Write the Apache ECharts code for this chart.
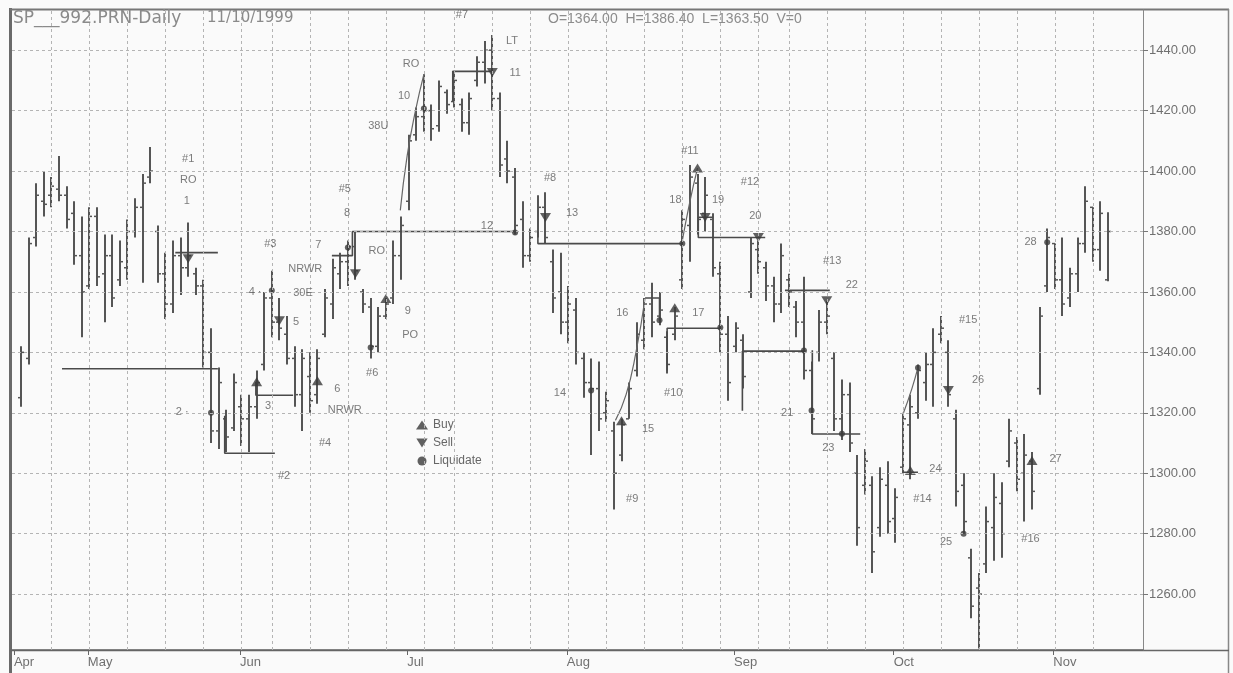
<!DOCTYPE html>
<html><head><meta charset="utf-8">
<script src="https://cdn.jsdelivr.net/npm/echarts@6/dist/echarts.min.js"></script>
<style>html,body{margin:0;padding:0;background:#fafafa}#c{width:1233px;height:673px}</style>
</head><body><div id="c"></div>
<script>
// ---------- data ----------
const startDate = '1999-04-20', endDate = '1999-11-10';
const holidays = ['1999-05-31', '1999-07-05', '1999-09-06'];
const monthNames = ['Apr','May','Jun','Jul','Aug','Sep','Oct','Nov'];
const yTicks = [1260,1280,1300,1320,1340,1360,1380,1400,1420,1440];

const opens = [1325,1338,1378,1390,1392,1394,1392,1386,1372,1362, 1385,1366,1372,1364,1368,1380,1388,1398,1380,1366,
 1356,1372,1368,1366,1362,1340,1314,1318,1315,1322, 1318,1322,1336,1358,1350,1346,1338,1326,1332,1326,
 1346,1356,1366,1370,1375,1360,1355,1342,1352,1358, 1372,1390,1412,1418,1420,1415,1426,1423,1422,1416,
 1430,1436,1440,1424,1404,1398,1384,1372,1380,1388, 1370,1360,1350,1354,1338,1330,1328,1320,1314,1306,
 1318,1334,1344,1356,1352,1345,1346,1364,1382,1396, 1386,1384,1366,1346,1342,1344,1360,1374,1368,1362,
 1356,1364,1355,1350,1334,1340,1350,1338,1318,1326, 1300,1296,1296,1282,1296,1285,1302,1316,1320,1330,
 1336,1346,1340,1318,1296,1272,1262,1270,1282,1290, 1304,1310,1300,1304,1328,1362,1376,1364,1358,1366,
 1376,1388,1374,1364];
const highs = [1342,1378,1396,1400,1398,1405,1395,1390,1385,1388, 1388,1379,1379,1377,1384,1391,1399,1408,1382,1373,
 1377,1378,1383,1368,1364,1348,1335,1321,1333,1326, 1326,1334,1360,1367,1358,1352,1342,1341,1340,1341,
 1361,1371,1373,1377,1380,1361,1358,1355,1358,1377, 1385,1412,1421,1432,1422,1430,1427,1433,1424,1426,
 1438,1443,1445,1426,1410,1401,1390,1381,1392,1393, 1374,1373,1362,1358,1340,1338,1337,1327,1317,1318,
 1330,1350,1358,1363,1360,1347,1355,1387,1402,1399, 1398,1386,1370,1352,1350,1346,1378,1377,1370,1365,
 1376,1366,1357,1365,1337,1354,1357,1340,1331,1330, 1306,1308,1299,1302,1304,1295,1320,1326,1336,1340,
 1348,1352,1344,1321,1300,1275,1267,1289,1300,1297, 1318,1312,1313,1307,1355,1381,1376,1378,1368,1378,
 1395,1388,1390,1386.4];
const lows = [1322,1336,1375,1385,1388,1390,1381,1369,1345,1361, 1362,1350,1355,1362,1364,1378,1363,1396,1363,1351,
 1353,1359,1365,1359,1335,1310,1308,1307,1314,1309, 1307,1318,1334,1345,1344,1336,1322,1314,1320,1323,
 1345,1351,1361,1362,1364,1353,1338,1340,1351,1356, 1364,1387,1410,1413,1410,1413,1419,1421,1413,1412,
 1428,1429,1420,1398,1396,1379,1368,1370,1378,1376, 1353,1346,1343,1336,1325,1306,1314,1317,1288,1304,
 1318,1332,1341,1345,1349,1333,1344,1361,1370,1379, 1380,1365,1340,1324,1340,1328,1358,1366,1357,1350,
 1353,1355,1345,1331,1313,1337,1346,1314,1311,1307, 1276,1293,1267,1279,1280,1277,1300,1298,1318,1324,
 1322,1343,1322,1289,1280,1252,1242,1267,1271,1272, 1302,1294,1284,1288,1326,1360,1361,1352,1355,1360,
 1373,1370,1367,1363.5];
const closes = [1340,1376,1392,1389,1395,1392,1384,1372,1360,1385, 1365,1372,1358,1370,1380,1388,1396,1400,1366,1356,
 1372,1368,1372,1362,1340,1314,1330,1312,1330,1318, 1322,1330,1358,1350,1348,1338,1326,1338,1324,1338,
 1358,1368,1370,1375,1367,1356,1342,1352,1356,1372, 1382,1410,1418,1420,1414,1428,1422,1430,1416,1424,
 1436,1440,1424,1402,1400,1382,1372,1378,1388,1378, 1358,1350,1356,1340,1330,1328,1318,1324,1300,1316,
 1328,1346,1356,1350,1354,1336,1352,1384,1398,1384, 1392,1368,1346,1330,1348,1332,1376,1370,1362,1356,
 1372,1360,1350,1334,1318,1350,1352,1318,1326,1310, 1282,1304,1274,1298,1284,1292,1318,1322,1334,1336,
 1340,1348,1326,1294,1284,1256,1260,1284,1292,1280, 1314,1298,1306,1294,1352,1378,1364,1356,1366,1376,
 1390,1374,1386,1380];

// signals: [tradingDayIndex, price]
const buys = [[31,1330.3],[39,1330.6],[48,1357.8],[79,1317.4],[86,1354.8],[89,1401],[117,1300.9],[133,1304.2]];
const sells = [[22,1371],[34,1350.5],[44,1366],[62,1432.6],[69,1384.6],[90,1384.6],[97,1378],[106,1357.1],[122,1327.4]];
const liquidates = [[25,1320],[33,1360.5],[43,1374.7],[46,1341.6],[53,1420.7],[65,1379.7],[75,1327.4],[84,1350.6],
 [87,1376],[92,1348.2],[103,1340.6],[104,1320.8],[108,1313.1],[118,1334.9],[124,1280],[135,1376.4]];

// annotation texts: [text, tradingDayIndex, price]
const notes = [['#1',22,1404],['RO',22,1397],['1',21.8,1390],['2 ·',21.2,1320.4],['#2',34.6,1299],['#3',32.8,1376],
 ['3',32.5,1322.4],['4 ·',30.8,1360],['5',36.2,1350],['NRWR',37.4,1367.7],['30E',37.1,1359.8],['7',39.1,1375.4],
 ['#5',42.6,1394.2],['8',42.9,1386],['RO',46.8,1373.7],['9',50.9,1353.8],['PO',51.2,1345.6],['#6',46.2,1333.3],
 ['6',41.6,1328],['NRWR',42.6,1321],['#4',40,1310],['RO',51.3,1435.6],['10',50.4,1424.7],['38U',47,1414.8],
 ['#7',58,1451.5],['LT',64.6,1443.2],['11',65,1432.3],['12',61.3,1381.7],['#8',69.6,1397.6],['13',72.5,1386],
 ['14',70.9,1326.4],['15',82.5,1314.8],['#9',80.4,1291.6],['16',79.1,1352.9],['17',89.1,1353.2],['#10',85.8,1326.7],
 ['18',86.1,1390.3],['#11',88,1406.8],['19',91.7,1390.3],['#12',95.9,1396.3],['20',96.6,1385.3],['21',100.8,1320.1],
 ['#13',106.7,1370.4],['22',109.3,1362.4],['23',106.2,1308.5],['24',120.3,1301.5],['#14',118.6,1291.6],
 ['#15',124.6,1350.6],['26',125.9,1330.7],['25',121.7,1277.3],['27',136.1,1304.6],['#16',132.8,1278.1],['28',132.8,1376.4]];

// stop / exit step lines: [tradingDayIndex, price]
const stopLines = [
 [[5.4,1334.6],[25.9,1334.6]],
 [[20.3,1373],[25.9,1373]],
 [[26.8,1319],[26.8,1306.6],[33.4,1306.6]],
 [[30.9,1330.3],[30.9,1325.8],[35.8,1325.8]],
 [[40.9,1372],[43.6,1372],[43.6,1380],[65,1380]],
 [[56.8,1423],[56.8,1433],[62.1,1433]],
 [[68,1380],[68,1376],[87,1376]],
 [[82.1,1358],[84,1358],[84,1350.6]],
 [[85,1334],[85,1348],[92.1,1348]],
 [[89.1,1384.7],[91,1384.7]],
 [[89.1,1384.7],[89.1,1378],[97.9,1378]],
 [[94.9,1320.7],[94.9,1340.4],[103.2,1340.4]],
 [[104.1,1340.7],[104.1,1313],[110.4,1313]],
 [[100.5,1360.5],[106.4,1360.5]],
 [[116,1300.3],[118,1300.3]]
];
const curves = [
 [[49.9,1387],[50.8,1405],[51.9,1420],[53,1432]],
 [[78.2,1317.5],[79.6,1326],[80.9,1340],[82.1,1358]],
 [[87,1377],[88,1390],[89,1401]],
 [[116.1,1320],[117.2,1328],[118,1335]]
];

// ---------- build trading calendar ----------
function ymd(d){return d.toISOString().slice(0,10);}
const dates = [];
for (let t = new Date(startDate+'T00:00:00Z'); ymd(t) <= endDate; t = new Date(t.getTime()+86400000)) {
  const wd = t.getUTCDay();
  if (wd === 0 || wd === 6 || holidays.indexOf(ymd(t)) >= 0) continue;
  dates.push(ymd(t));
}
const X_MIN = -1.18, X_MAX = 147.6, Y_MIN = 1241.5, Y_MAX = 1453.3;
const weekStarts = [], monthPos = [], monthLab = {};
dates.forEach((d, i) => {
  if (i > 0) {
    const a = new Date(dates[i-1]+'T00:00:00Z').getUTCDay(), b = new Date(d+'T00:00:00Z').getUTCDay();
    if (b < a) weekStarts.push(i);
  }
  if (i === 0 || d.slice(5,7) !== dates[i-1].slice(5,7)) {
    const p = i === 0 ? X_MIN + 0.25 : i - 0.2;
    monthPos.push(p);
    monthLab[p.toFixed(2)] = monthNames[parseInt(d.slice(5,7),10) - 4];
  }
});
const ohlc = dates.map((d, i) => [i, opens[i], highs[i], lows[i], closes[i]]);

// ---------- chart ----------
const FONT = 'Liberation Sans, Arial, sans-serif';
const chart = echarts.init(document.getElementById('c'), null, {renderer: 'canvas'});
const series = [];
series.push({
  type: 'scatter', data: [], silent: true, z: 1,
  markLine: {
    silent: true, symbol: 'none', label: {show: false}, animation: false,
    lineStyle: {color: '#b4b4b4', type: [3, 3], width: 1},
    data: yTicks.map(v => ({yAxis: v})).concat(weekStarts.map(i => ({xAxis: i})))
  }
});
series.push({
  type: 'custom', name: 'SP', z: 2, data: ohlc, encode: {x: 0, y: [1,2,3,4]},
  renderItem: function (params, api) {
    const d = api.value(0);
    const ph = api.coord([d, api.value(2)]), pl = api.coord([d, api.value(3)]);
    const po = api.coord([d, api.value(1)]), pc = api.coord([d, api.value(4)]);
    const x = Math.round(ph[0]);
    return {type: 'group', children: [
      {type: 'line', shape: {x1: x, y1: ph[1], x2: x, y2: pl[1]}, style: {stroke: '#555', lineWidth: 2}},
      {type: 'line', shape: {x1: x - 3, y1: po[1], x2: x, y2: po[1]}, style: {stroke: '#555', lineWidth: 1.5}},
      {type: 'line', shape: {x1: x, y1: pc[1], x2: x + 3, y2: pc[1]}, style: {stroke: '#555', lineWidth: 1.5}}
    ]};
  }
});
stopLines.forEach(pts => series.push({type: 'line', data: pts, z: 3, symbol: 'none', silent: true,
  lineStyle: {color: '#4a4a4a', width: 1.6}}));
curves.forEach(pts => series.push({type: 'line', data: pts, z: 3, symbol: 'none', smooth: true, silent: true,
  lineStyle: {color: '#666', width: 1.2}}));
series.push({name: 'Buy', type: 'scatter', data: buys, z: 4, symbol: 'triangle', symbolSize: [11, 9],
  itemStyle: {color: '#3a3a3a'}});
series.push({name: 'Sell', type: 'scatter', data: sells, z: 4, symbol: 'path://M0,0L10,0L5,8Z', symbolSize: [11, 9],
  itemStyle: {color: '#3a3a3a'}});
series.push({name: 'Liquidate', type: 'scatter', data: liquidates, z: 4, symbol: 'circle', symbolSize: 6,
  itemStyle: {color: '#3a3a3a'}});
series.push({type: 'scatter', z: 5, silent: true, symbolSize: 1, itemStyle: {color: 'rgba(0,0,0,0)'},
  data: notes.map(n => ({name: n[0], value: [n[1], n[2]]})),
  label: {show: true, position: 'inside', formatter: '{b}', color: '#5a5a5a', fontSize: 11, fontFamily: FONT}});

const TFONT = 'DejaVu Sans, sans-serif';
chart.setOption({
  animation: false,
  backgroundColor: '#fafafa',
  textStyle: {fontFamily: FONT},
  title: [
    {text: 'SP___992.PRN-Daily', left: 8, top: 5, padding: 5,
      textStyle: {fontSize: 17, color: '#8a8a8a', fontWeight: 'normal', fontFamily: TFONT}},
    {text: '11/10/1999', left: 202, top: 6, padding: 5,
      textStyle: {fontSize: 15, color: '#8a8a8a', fontWeight: 'normal', fontFamily: TFONT}},
    {text: 'O=1364.00  H=1386.40  L=1363.50  V=0', left: 543, top: 7,
      textStyle: {fontSize: 14, color: '#8c8c8c', fontWeight: 'normal', fontFamily: FONT}}
  ],
  legend: {data: ['Buy', 'Sell', 'Liquidate'], orient: 'vertical', left: 411, top: 414, itemWidth: 12, itemHeight: 9,
    itemGap: 6, selectedMode: false, textStyle: {color: '#666', fontSize: 12, fontFamily: FONT}},
  grid: {left: 12, right: 90, top: 10, bottom: 23, containLabel: false},
  xAxis: {
    type: 'value', min: X_MIN, max: X_MAX, splitLine: {show: false},
    axisLine: {show: true, onZero: false, lineStyle: {color: '#666', width: 1.5}},
    axisTick: {show: true, customValues: monthPos, length: 5, lineStyle: {color: '#666'}},
    axisLabel: {show: true, customValues: monthPos, align: 'left', margin: 6, color: '#707070', fontSize: 13,
      formatter: v => monthLab[Number(v).toFixed(2)] || ''}
  },
  yAxis: {
    type: 'value', position: 'right', min: Y_MIN, max: Y_MAX, splitLine: {show: false},
    axisLine: {show: true, onZero: false, lineStyle: {color: '#888', width: 1}},
    axisTick: {show: true, customValues: yTicks, length: 5, lineStyle: {color: '#777'}},
    axisLabel: {show: true, customValues: yTicks, margin: 6, color: '#707070', fontSize: 13,
      formatter: v => Number(v).toFixed(2)}
  },
  graphic: [
    {type: 'line', shape: {x1: 10.5, y1: 8, x2: 10.5, y2: 673}, style: {stroke: '#6a6a6a', lineWidth: 3}, silent: true},
    {type: 'line', shape: {x1: 10, y1: 9.5, x2: 1229, y2: 9.5}, style: {stroke: '#777', lineWidth: 2}, silent: true},
    {type: 'line', shape: {x1: 1228.5, y1: 9, x2: 1228.5, y2: 673}, style: {stroke: '#888', lineWidth: 1.5}, silent: true},
    {type: 'line', shape: {x1: 10, y1: 650.5, x2: 1229, y2: 650.5}, style: {stroke: '#666', lineWidth: 1.5}, silent: true}
  ],
  series: series
});
</script></body></html>
